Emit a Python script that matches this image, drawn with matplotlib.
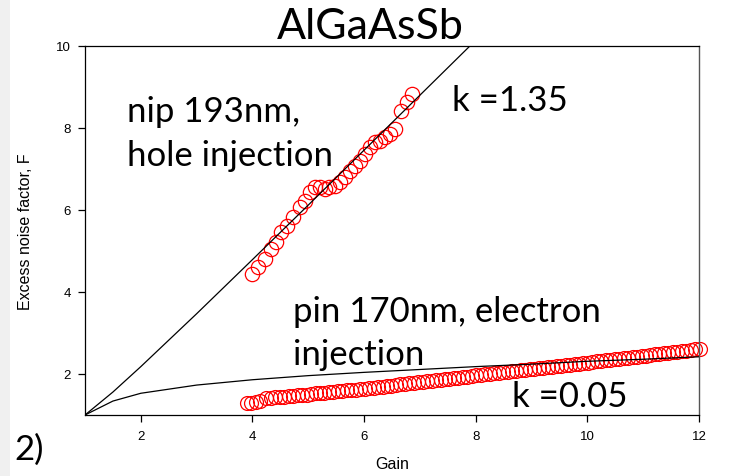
import matplotlib
matplotlib.use("Agg")
import matplotlib.pyplot as plt
from matplotlib.patches import Rectangle

# Local-model curves (McIntyre), read at a few gains
model_gain = [1.0, 1.5, 2.0, 3.0, 4.0, 5.0, 6.0, 7.0, 8.0, 9.0, 10.0, 11.0, 12.0]
model_k135 = [1.0, 1.56, 2.18, 3.47, 4.79, 6.12, 7.46, 8.80, 10.14, 11.48, 12.82, 14.16, 15.50]
model_k005 = [1.0, 1.34, 1.53, 1.73, 1.86, 1.96, 2.04, 2.11, 2.18, 2.24, 2.31, 2.36, 2.42]

# nip 193 nm, hole injection
hole_gain = [4.00, 4.10, 4.22, 4.34, 4.43, 4.52, 4.61, 4.73, 4.85, 4.94,
             5.03, 5.12, 5.21, 5.30, 5.38, 5.47, 5.56, 5.65, 5.74, 5.83,
             5.92, 6.01, 6.10, 6.19, 6.28, 6.37, 6.46, 6.55, 6.67, 6.76, 6.85]
hole_F = [4.44, 4.60, 4.80, 5.05, 5.21, 5.46, 5.62, 5.82, 6.07, 6.23,
          6.43, 6.55, 6.55, 6.51, 6.55, 6.59, 6.68, 6.80, 6.96, 7.08,
          7.20, 7.37, 7.53, 7.65, 7.69, 7.77, 7.85, 7.98, 8.42, 8.63, 8.83]

# pin 170 nm, electron injection
elec_gain = [3.90, 3.98, 4.06, 4.14,
             4.25, 4.33, 4.41, 4.49, 4.57, 4.65, 4.73, 4.81, 4.89, 4.97,
             5.05, 5.13, 5.21, 5.29, 5.37, 5.45, 5.53, 5.61, 5.69, 5.77,
             5.85, 5.93, 6.01, 6.09, 6.17, 6.25, 6.33, 6.41, 6.49, 6.57,
             6.65, 6.73, 6.81, 6.89, 6.97, 7.05, 7.13, 7.21, 7.29, 7.37,
             7.45, 7.53, 7.61, 7.69, 7.77, 7.85, 7.93, 8.01, 8.09, 8.17,
             8.25, 8.33, 8.41, 8.49, 8.57, 8.65, 8.73, 8.81, 8.89, 8.97,
             9.05, 9.13, 9.21, 9.29, 9.37, 9.45, 9.53, 9.61, 9.69, 9.77,
             9.85, 9.93, 10.01, 10.09, 10.17, 10.25, 10.33, 10.41, 10.49, 10.57,
             10.65, 10.73, 10.81, 10.89, 10.97, 11.05, 11.13, 11.21, 11.29, 11.37,
             11.45, 11.53, 11.61, 11.69, 11.77, 11.85, 11.93, 12.01]
elec_F = [1.30, 1.30, 1.31, 1.33,
          1.41, 1.42, 1.43, 1.44, 1.45, 1.46, 1.47, 1.48, 1.49, 1.50,
          1.515, 1.525, 1.535, 1.545, 1.555, 1.565, 1.58, 1.59, 1.60, 1.61,
          1.62, 1.63, 1.64, 1.653, 1.666, 1.679, 1.692, 1.705, 1.718, 1.731,
          1.744, 1.757, 1.770, 1.783, 1.796, 1.809, 1.822, 1.835, 1.848, 1.861,
          1.874, 1.887, 1.900, 1.913, 1.926, 1.939, 1.952, 1.965, 1.978, 1.99,
          2.00, 2.015, 2.03, 2.04, 2.055, 2.065, 2.08, 2.09, 2.105, 2.115,
          2.13, 2.14, 2.155, 2.165, 2.18, 2.19, 2.205, 2.215, 2.23, 2.24,
          2.255, 2.265, 2.28, 2.29, 2.305, 2.32, 2.33, 2.345, 2.36, 2.37,
          2.385, 2.40, 2.41, 2.425, 2.44, 2.45, 2.465, 2.48, 2.49, 2.505,
          2.52, 2.53, 2.545, 2.56, 2.57, 2.585, 2.60, 2.61]

x_ticks = [2, 4, 6, 8, 10, 12]
y_ticks = [2, 4, 6, 8, 10]

big = "Lato"
small = "Liberation Sans"

fig = plt.figure(figsize=(7.3, 4.77), dpi=100)
fig.patch.set_facecolor("white")
fig.add_artist(Rectangle((0, 0), 10 / 730, 1, transform=fig.transFigure,
                         facecolor="#f0f0f0", edgecolor="none", zorder=0))

ax = fig.add_axes([85 / 730, 61 / 477, 614 / 730, 369 / 477])
ax.set_xlim(1, 12)
ax.set_ylim(1, 10)

ax.plot(hole_gain, hole_F, linestyle="none", marker="o", markersize=10.3,
        markerfacecolor="none", markeredgecolor="red", markeredgewidth=0.9,
        zorder=2, clip_on=False)
ax.plot(elec_gain, elec_F, linestyle="none", marker="o", markersize=10,
        markerfacecolor="none", markeredgecolor="red", markeredgewidth=0.9,
        zorder=2, clip_on=False)
ax.plot(model_gain, model_k135, color="black", linewidth=0.9, zorder=3)
ax.plot(model_gain, model_k005, color="black", linewidth=0.9, zorder=3)

ax.set_xticks(x_ticks)
ax.set_yticks(y_ticks)
ax.set_yticklabels(["2", "4", "6", "8", "10"])
ax.tick_params(direction="out", length=5, width=0.9,
               labelsize=9.5, colors="black")
ax.tick_params(axis="x", pad=6)
ax.tick_params(axis="y", pad=5)
for lab in ax.get_xticklabels() + ax.get_yticklabels():
    lab.set_fontfamily(small)
for side in ["left", "bottom", "top"]:
    ax.spines[side].set_color("black")
    ax.spines[side].set_linewidth(0.9)
ax.spines["right"].set_color("#555555")
ax.spines["right"].set_linewidth(1.0)

ax.set_xlabel("Gain", fontsize=11.5, fontfamily=small, labelpad=10)
ax.set_ylabel("Excess noise factor, F", fontsize=11.5, fontfamily=small,
              labelpad=17)

fig.text(370 / 730, 1 - 39 / 477, "AlGaAsSb", fontsize=31, fontfamily=big,
         ha="center", va="baseline")
fig.text(127 / 730, 1 - 121.7 / 477, "nip 193nm,", fontsize=25,
         fontfamily=big, ha="left", va="baseline")
fig.text(127 / 730, 1 - 165.7 / 477, "hole injection", fontsize=25,
         fontfamily=big, ha="left", va="baseline")
fig.text(452 / 730, 1 - 111 / 477, "k =1.35", fontsize=25,
         fontfamily=big, ha="left", va="baseline")
fig.text(293 / 730, 1 - 321.7 / 477, "pin 170nm, electron", fontsize=25,
         fontfamily=big, ha="left", va="baseline")
fig.text(293 / 730, 1 - 365 / 477, "injection", fontsize=25,
         fontfamily=big, ha="left", va="baseline")
fig.text(511.7 / 730, 1 - 406.7 / 477, "k =0.05", fontsize=25,
         fontfamily=big, ha="left", va="baseline")
fig.text(14 / 730, 1 - 460 / 477, "2)", fontsize=25,
         fontfamily=big, ha="left", va="baseline")

fig.savefig("out.png", dpi=100)
